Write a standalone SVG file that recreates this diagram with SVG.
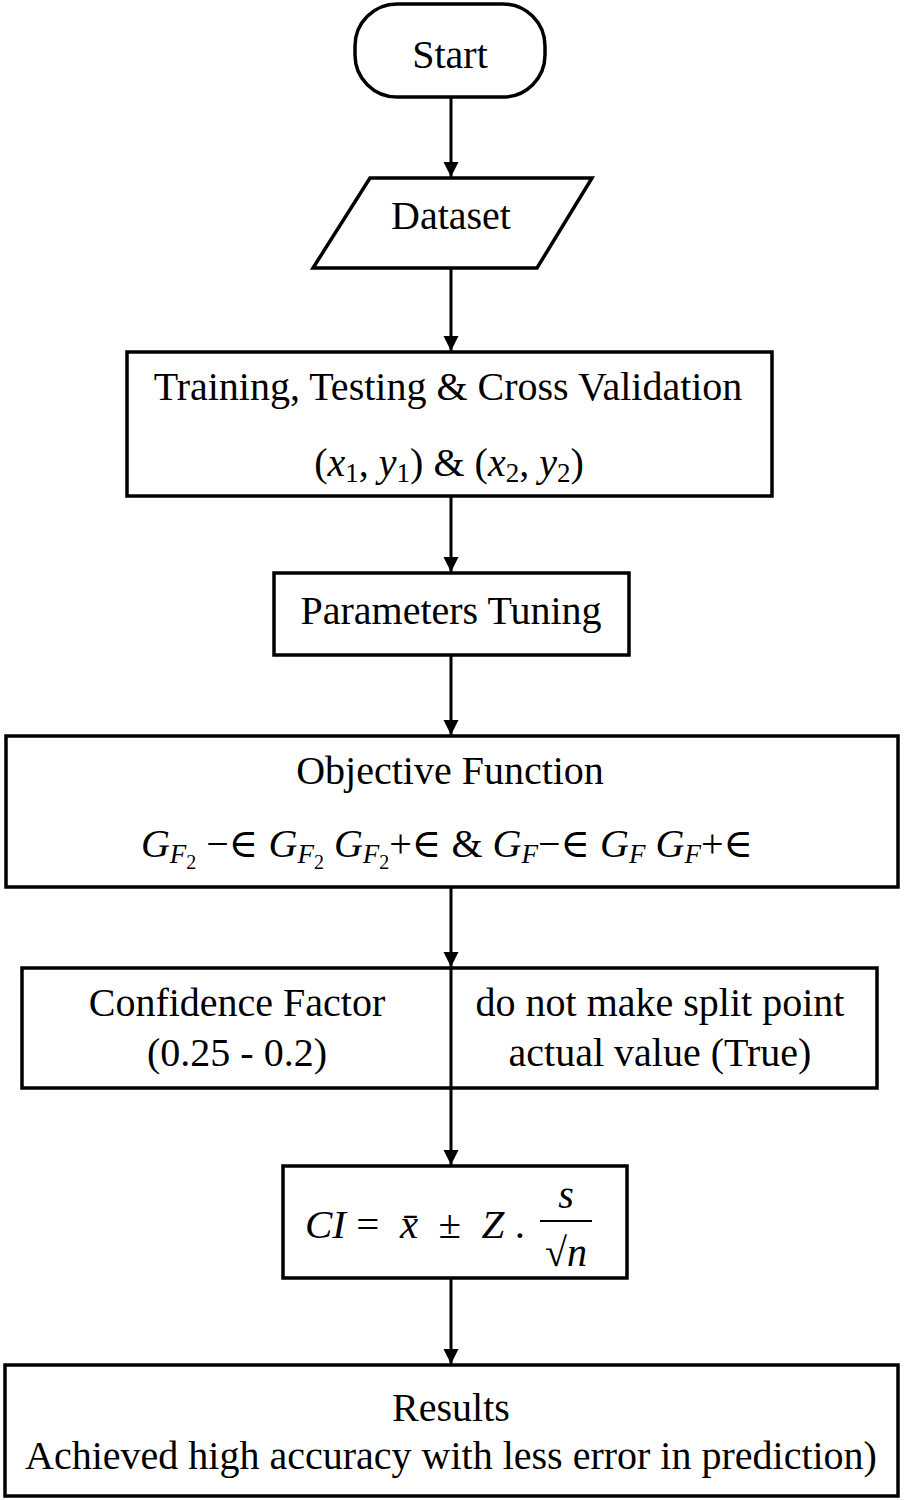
<svg xmlns="http://www.w3.org/2000/svg" width="904" height="1500" viewBox="0 0 904 1500">
<style>
.box{fill:#fff;stroke:#000;stroke-width:3.5}
.t{font-family:"Liberation Serif","Times New Roman",serif;font-size:40px;fill:#000;text-anchor:middle}
.m{font-family:"Liberation Serif","DejaVu Serif",serif;font-size:40px;fill:#000;text-anchor:middle}
.ms{font-family:"Liberation Serif","DejaVu Serif",serif;font-size:41px;fill:#000;text-anchor:start}
.i{font-style:italic}
.edge{stroke:#000;stroke-width:3;fill:none}
</style>
<defs>
<marker id="ah" viewBox="0 0 10 10" refX="10" refY="5" markerWidth="5" markerHeight="6" markerUnits="strokeWidth" orient="auto">
<path d="M0,0 L10,5 L0,10 z" fill="#000"/>
</marker>
</defs>
<rect width="904" height="1500" fill="#fff"/>
<g id="connectors">
<line class="edge" x1="451" y1="97" x2="451" y2="177" marker-end="url(#ah)"/>
<line class="edge" x1="451" y1="268" x2="451" y2="351" marker-end="url(#ah)"/>
<line class="edge" x1="451" y1="496" x2="451" y2="572" marker-end="url(#ah)"/>
<line class="edge" x1="451" y1="655" x2="451" y2="735" marker-end="url(#ah)"/>
<line class="edge" x1="451" y1="887" x2="451" y2="967" marker-end="url(#ah)"/>
<line class="edge" x1="451" y1="1088" x2="451" y2="1165" marker-end="url(#ah)"/>
<line class="edge" x1="451" y1="1278" x2="451" y2="1364" marker-end="url(#ah)"/>
</g>
<g id="start">
<rect class="box" x="355" y="4" width="190" height="93" rx="42" ry="42"/>
<text class="t" x="450" y="68">Start</text>
</g>
<g id="dataset">
<polygon class="box" points="370,178 592,178 537,268 313,268"/>
<text class="t" x="451" y="229">Dataset</text>
</g>
<g id="training">
<rect class="box" x="127" y="352" width="645" height="144"/>
<text class="t" x="448" y="400">Training, Testing &amp; Cross Validation</text>
<text class="m" x="449" y="476">(<tspan class="i">x</tspan><tspan font-size="27" dy="6">1</tspan><tspan dy="-6">, </tspan><tspan class="i">y</tspan><tspan font-size="27" dy="6">1</tspan><tspan dy="-6">) &amp; (</tspan><tspan class="i">x</tspan><tspan font-size="27" dy="6">2</tspan><tspan dy="-6">, </tspan><tspan class="i">y</tspan><tspan font-size="27" dy="6">2</tspan><tspan dy="-6">)</tspan></text>
</g>
<g id="tuning">
<rect class="box" x="274" y="573" width="355" height="82"/>
<text class="t" x="451" y="624">Parameters Tuning</text>
</g>
<g id="objective">
<rect class="box" x="6" y="736" width="892" height="151"/>
<text class="t" x="450" y="784">Objective Function</text>
<text class="m" x="447" y="857"><tspan class="i">G</tspan><tspan class="i" font-size="27" dy="6">F</tspan><tspan font-size="20" dy="6">2</tspan><tspan dy="-12"> −∈ </tspan><tspan class="i">G</tspan><tspan class="i" font-size="27" dy="6">F</tspan><tspan font-size="20" dy="6">2</tspan><tspan dy="-12">  </tspan><tspan class="i">G</tspan><tspan class="i" font-size="27" dy="6">F</tspan><tspan font-size="20" dy="6">2</tspan><tspan dy="-12">+∈ &amp; </tspan><tspan class="i">G</tspan><tspan class="i" font-size="27" dy="6">F</tspan><tspan dy="-6">−∈ </tspan><tspan class="i">G</tspan><tspan class="i" font-size="27" dy="6">F</tspan><tspan dy="-6">  </tspan><tspan class="i">G</tspan><tspan class="i" font-size="27" dy="6">F</tspan><tspan dy="-6">+∈</tspan></text>
</g>
<g id="confidence">
<rect class="box" x="22" y="968" width="855" height="120"/>
<line x1="451" y1="968" x2="451" y2="1088" stroke="#000" stroke-width="3"/>
<text class="t" x="237" y="1016">Confidence Factor</text>
<text class="t" x="237" y="1066">(0.25 - 0.2)</text>
<text class="t" x="660" y="1016">do not make split point</text>
<text class="t" x="660" y="1066">actual value (True)</text>
</g>
<g id="ci">
<rect class="box" x="283" y="1166" width="344" height="112"/>
<text class="ms" x="305" y="1238" xml:space="preserve"><tspan class="i">CI</tspan> =  <tspan class="i">x̄</tspan>  ±  <tspan class="i">Z</tspan> .</text>
<text class="m i" x="566" y="1208">s</text>
<line x1="540" y1="1221" x2="592" y2="1221" stroke="#000" stroke-width="2"/>
<text class="m" x="566" y="1266">√<tspan class="i">n</tspan></text>
</g>
<g id="results">
<rect class="box" x="5" y="1365" width="893" height="131"/>
<text class="t" x="451" y="1421">Results</text>
<text class="t" x="451" y="1469">Achieved high accuracy with less error in prediction)</text>
</g>
</svg>
